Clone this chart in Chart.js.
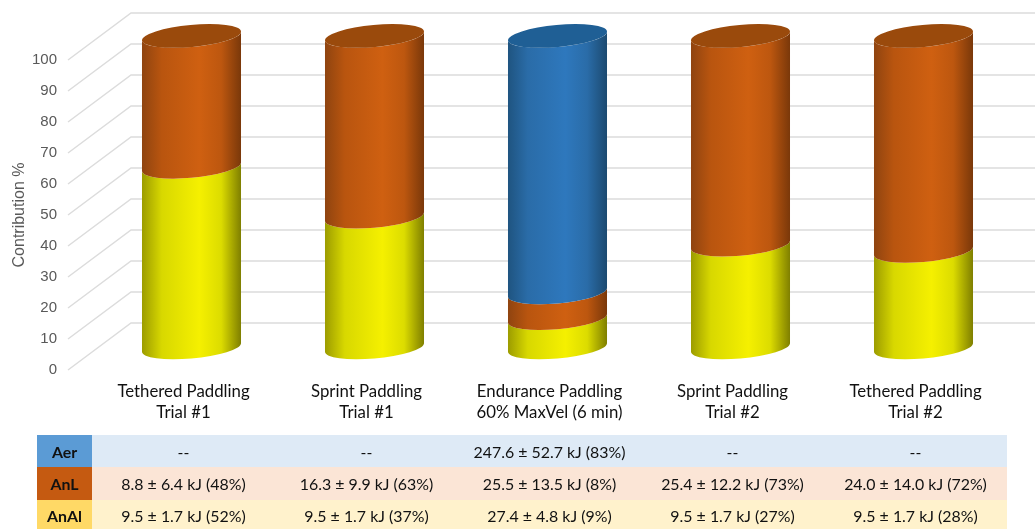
<!DOCTYPE html>
<html>
<head>
<meta charset="utf-8">
<title>Energy contribution</title>
<script src="https://cdn.jsdelivr.net/npm/chart.js@4/dist/chart.umd.js"></script>
<style>
  body { margin: 0; background: #fff; overflow: hidden; }
  #wrap { position: relative; width: 1035px; height: 529px; overflow: hidden; }
  #myChart { position: absolute; left: 0; top: 0; }
  table {
    position: absolute; left: 37px; top: 435px; width: 970px; height: 97px;
    border-collapse: collapse; table-layout: fixed;
    font: 15.9px Lato, sans-serif; color: #111; text-align: center;
  }
  td { padding: 0; height: 32px; }
  td.head { width: 55px; font-weight: bold; }
</style>
</head>
<body>
<div id="wrap">
  <canvas id="myChart" width="1035" height="529"></canvas>
  <table id="tbl"></table>
</div>
<script>
var categories = [
  ['Tethered Paddling', 'Trial #1'],
  ['Sprint Paddling', 'Trial #1'],
  ['Endurance Paddling', '60% MaxVel (6 min)'],
  ['Sprint Paddling', 'Trial #2'],
  ['Tethered Paddling', 'Trial #2']
];
var anAl = [58, 42, 9.4, 33, 31];
var anL = [42, 58, 8.3, 67, 69];
var aer = [0, 0, 82.3, 0, 0];
var yTicks = [0, 10, 20, 30, 40, 50, 60, 70, 80, 90, 100];

var rowLabels = ['Aer', 'AnL', 'AnAl'];
var aerText = ['--', '--', '247.6 ± 52.7 kJ (83%)', '--', '--'];
var anLText = ['8.8 ± 6.4 kJ (48%)', '16.3 ± 9.9 kJ (63%)', '25.5 ± 13.5 kJ (8%)', '25.4 ± 12.2 kJ (73%)', '24.0 ± 14.0 kJ (72%)'];
var anAlText = ['9.5 ± 1.7 kJ (52%)', '9.5 ± 1.7 kJ (37%)', '27.4 ± 4.8 kJ (9%)', '9.5 ± 1.7 kJ (27%)', '9.5 ± 1.7 kJ (28%)'];

// table below the chart
var rows = [
  { cells: aerText, head: '#5b9bd5', fill: '#deeaf6' },
  { cells: anLText, head: '#c55a11', fill: '#fbe5d6' },
  { cells: anAlText, head: '#ffd966', fill: '#fff2cc' }
];
var tbl = document.getElementById('tbl');
rows.forEach(function (row, i) {
  var html = '<td class="head" style="background:' + row.head + '">' + rowLabels[i] + '</td>';
  row.cells.forEach(function (t) {
    html += '<td style="background:' + row.fill + '">' + t + '</td>';
  });
  var tr = document.createElement('tr');
  tr.innerHTML = html;
  tbl.appendChild(tr);
});

// colours across each cylinder, left to right
var shades = {
  yellow: { stops: ['#9c9c00', '#d8d800', '#f5f000', '#dcdc00', '#7f7f00'], cap: '#e0dc00' },
  orange: { stops: ['#8f4410', '#b9550f', '#cf6011', '#bd570f', '#7a380a'], cap: '#9a4a0c' },
  blue: { stops: ['#1f5480', '#2a6ca8', '#2e78bd', '#2a6ca8', '#1c4a70'], cap: '#1f5f95' }
};
var stopAt = [0, 0.2, 0.58, 0.8, 1];

var depthX = 8, depthY = 22.5;     // cylinders stand behind the front plane
var stretch = 1.005;               // cylinders come out slightly taller than the axis
var wallX = 63, wallY = 47;        // side wall of the 3D box
var tilt = -5.2 * Math.PI / 180;
var capRy = 11;

function segmentFill(ctx, left, right, shade) {
  var g = ctx.createLinearGradient(left, 0, right, 0);
  shade.stops.forEach(function (c, i) { g.addColorStop(stopAt[i], c); });
  return g;
}

var box3d = {
  id: 'box3d',
  beforeDatasetsDraw: function (chart) {
    var ctx = chart.ctx, y = chart.scales.y, area = chart.chartArea;
    ctx.save();
    ctx.strokeStyle = '#dcdcdc';
    ctx.lineWidth = 1.5;
    y.ticks.forEach(function (t) {
      var py = y.getPixelForValue(t.value);
      ctx.beginPath();
      ctx.moveTo(area.left - 24, py);
      ctx.lineTo(area.left - 24 + wallX, py - wallY);
      ctx.lineTo(chart.width, py - wallY);
      ctx.stroke();
    });
    ctx.restore();
  },
  afterDatasetsDraw: function (chart) {
    var ctx = chart.ctx;
    var floor = chart.scales.y.getPixelForValue(0);
    var count = chart.data.labels.length;
    for (var i = 0; i < count; i++) {
      var lastTop = null, lastShade = null, lastBar = null;
      chart.data.datasets.forEach(function (ds, d) {
        if (!ds.data[i]) return;
        var bar = chart.getDatasetMeta(d).data[i];
        var cx = bar.x + depthX;
        var half = bar.width / 2;
        var rx = half / Math.cos(tilt);
        var t0 = Math.atan(-(capRy / rx) * Math.tan(tilt));
        var yBase = floor - (floor - bar.base) * stretch - depthY;
        var yTop = floor - (floor - bar.y) * stretch - depthY;
        var shade = shades[ds.shade];
        ctx.beginPath();
        ctx.ellipse(cx, yBase, rx, capRy, tilt, t0, t0 + Math.PI, false);
        ctx.ellipse(cx, yTop, rx, capRy, tilt, t0 + Math.PI, t0, true);
        ctx.closePath();
        ctx.fillStyle = segmentFill(ctx, cx - half, cx + half, shade);
        ctx.fill();
        lastTop = yTop; lastShade = shade; lastBar = { cx: cx, rx: rx };
      });
      if (lastShade) {
        ctx.beginPath();
        ctx.ellipse(lastBar.cx, lastTop, lastBar.rx, capRy, tilt, 0, Math.PI * 2);
        ctx.fillStyle = lastShade.cap;
        ctx.fill();
      }
    }
  }
};

var chart = new Chart(document.getElementById('myChart').getContext('2d'), {
  type: 'bar',
  plugins: [box3d],
  data: {
    labels: categories,
    datasets: [
      { label: 'AnAl', data: anAl, shade: 'yellow', backgroundColor: 'transparent' },
      { label: 'AnL', data: anL, shade: 'orange', backgroundColor: 'transparent' },
      { label: 'Aer', data: aer, shade: 'blue', backgroundColor: 'transparent' }
    ]
  },
  options: {
    responsive: false,
    animation: false,
    barPercentage: 0.541,
    categoryPercentage: 1,
    layout: { padding: { top: 60, right: 28, left: 0, bottom: 0 } },
    plugins: { legend: { display: false }, tooltip: { enabled: false } },
    scales: {
      x: {
        stacked: true,
        grid: { display: false },
        border: { display: false },
        afterFit: function (scale) { scale.height = 159; },
        ticks: {
          padding: 3,
          maxRotation: 0,
          color: '#111',
          font: { family: 'Lato, sans-serif', size: 16.8, lineHeight: 1.25 }
        }
      },
      y: {
        stacked: true,
        min: 0,
        max: 100,
        grid: { display: false, drawTicks: false },
        border: { display: false },
        afterFit: function (scale) { scale.width = 92; },
        afterBuildTicks: function (scale) {
          scale.ticks = yTicks.map(function (v) { return { value: v }; });
        },
        title: {
          display: true,
          text: 'Contribution %',
          color: '#595959',
          padding: { top: 10, bottom: 0 },
          font: { family: '"Liberation Sans", sans-serif', size: 16 }
        },
        ticks: {
          padding: 35,
          color: '#595959',
          font: { family: '"Liberation Sans", sans-serif', size: 15 }
        }
      }
    }
  }
});
</script>
</body>
</html>
